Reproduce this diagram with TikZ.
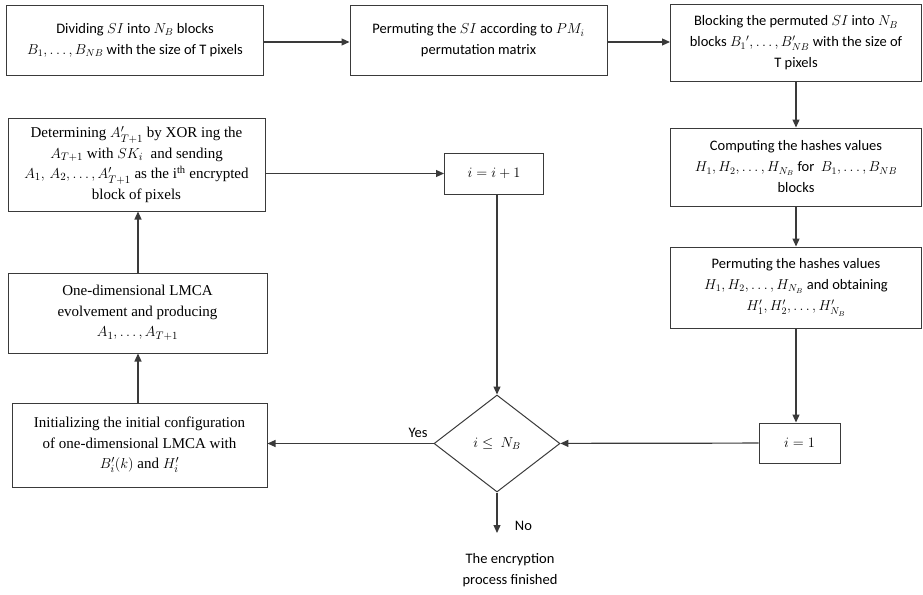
\documentclass[tikz,border=0pt]{standalone}
\usepackage{amsmath,xcolor}
\usepackage{fontspec}
\setmainfont{Carlito}
\newfontfamily\timesfont{Liberation Serif}
\usepackage{tikz}
\usetikzlibrary{shapes, arrows.meta, positioning}

\definecolor{linegray}{HTML}{3A3A3A}

\begin{document}
\begin{tikzpicture}[x=1pt, y=-1pt,
    font=\fontsize{14.5}{21}\selectfont,
    box/.style={draw=linegray, line width=1pt, align=center, inner sep=2pt},
    serifbox/.style={box, font=\timesfont\fontsize{15}{20.5}\selectfont}]
    \useasboundingbox (0,0) rectangle (923,594);
    % top row
    \node[box, minimum width=257pt, minimum height=69pt] at (135,40.5) (divide)
        {Dividing $SI$ into $N_B$ blocks\\ $B_1,\dots,B_{NB}$ with the size of T pixels};
    \node[box, minimum width=257pt, minimum height=69pt] at (478.5,40.5) (permute)
        {Permuting the $SI$ according to $PM_i$\\ permutation matrix};
    \node[box, minimum width=251pt, minimum height=76pt] at (796,43) (blocking)
        {Blocking the permuted $SI$ into $N_B$\\ blocks $B_1{}',\dots,B'_{NB}$ with the size of\\ T pixels};
    % right column
    \node[box, minimum width=251pt, minimum height=78pt] at (796,167) (hashes)
        {Computing the hashes values\\ $H_1,H_2,\dots,H_{N_B}$ for\ \ $B_1,\dots,B_{NB}$\\ blocks};
    \node[box, minimum width=251pt, minimum height=81pt] at (796,287.5) (permhash)
        {Permuting the hashes values\\ $H_1,H_2,\dots,H_{N_B}$ and obtaining\\ $H'_1,H'_2,\dots,H'_{N_B}$};
    \node[box, minimum width=81pt, minimum height=40pt] at (799.5,443) (ione) {$i=1$};
    % middle
    \node[draw=linegray, line width=1pt, diamond, aspect=1.3, inner sep=0pt,
        minimum width=126pt, minimum height=97pt] at (497,443.5) (cond) {$i\leq\ N_B$};
    \node[box, minimum width=99pt, minimum height=41pt] at (494,173.5) (inc) {$i=i+1$};
    \node[align=center] at (510,570) (finish) {The encryption\\ process finished};
    % left column
    \node[serifbox, minimum width=257pt, minimum height=93pt] at (136.5,164.5) (xor)
        {Determining $A'_{T+1}$ by XOR ing the\\ $A_{T+1}$ with $SK_i$\ \ and sending\\
         $A_1,\,A_2,\dots,A'_{T+1}$ as the i\textsuperscript{th} encrypted\\ block of pixels};
    \node[serifbox, minimum width=259pt, minimum height=80pt] at (137.5,313) (lmca)
        {One-dimensional LMCA\\ evolvement and producing\\ $A_1,\dots,A_{T+1}$};
    \node[serifbox, minimum width=255pt, minimum height=84pt] at (139.5,445) (init)
        {Initializing the initial configuration\\ of one-dimensional LMCA with\\ $B'_i(k)$ and $H'_i$};
    \tikzstyle{connector} = [draw=linegray, line width=1.2pt, -{Triangle[length=8pt,width=7pt]}];
    \path[connector] (divide.east |- 0,42) -- (permute.west |- 0,42);
    \path[connector] (permute.east |- 0,42) -- (blocking.west |- 0,42);
    \path[connector] (blocking) -- (hashes);
    \path[connector] (hashes) -- (permhash);
    \path[connector] (permhash.south) -- (permhash.south |- ione.north);
    \path[connector] (ione) -- (cond);
    \path[connector] (cond) -- node[above left=2pt and 2pt, pos=0.0] (yes) {Yes} (cond -| init.east);
    \path[connector] (init.north -| 138,0) -- (lmca.south -| 138,0);
    \path[connector] (lmca.north -| 138,0) -- (xor.south -| 138,0);
    \path[connector] (xor.east |- inc.west) -- (inc.west);
    \path[connector] (inc.south -| cond.north) -- (cond.north);
    \path[connector] (cond.south) -- node[right=14pt, pos=0.82] (no) {No} (cond.south |- 0,533);
\end{tikzpicture}
\end{document}
